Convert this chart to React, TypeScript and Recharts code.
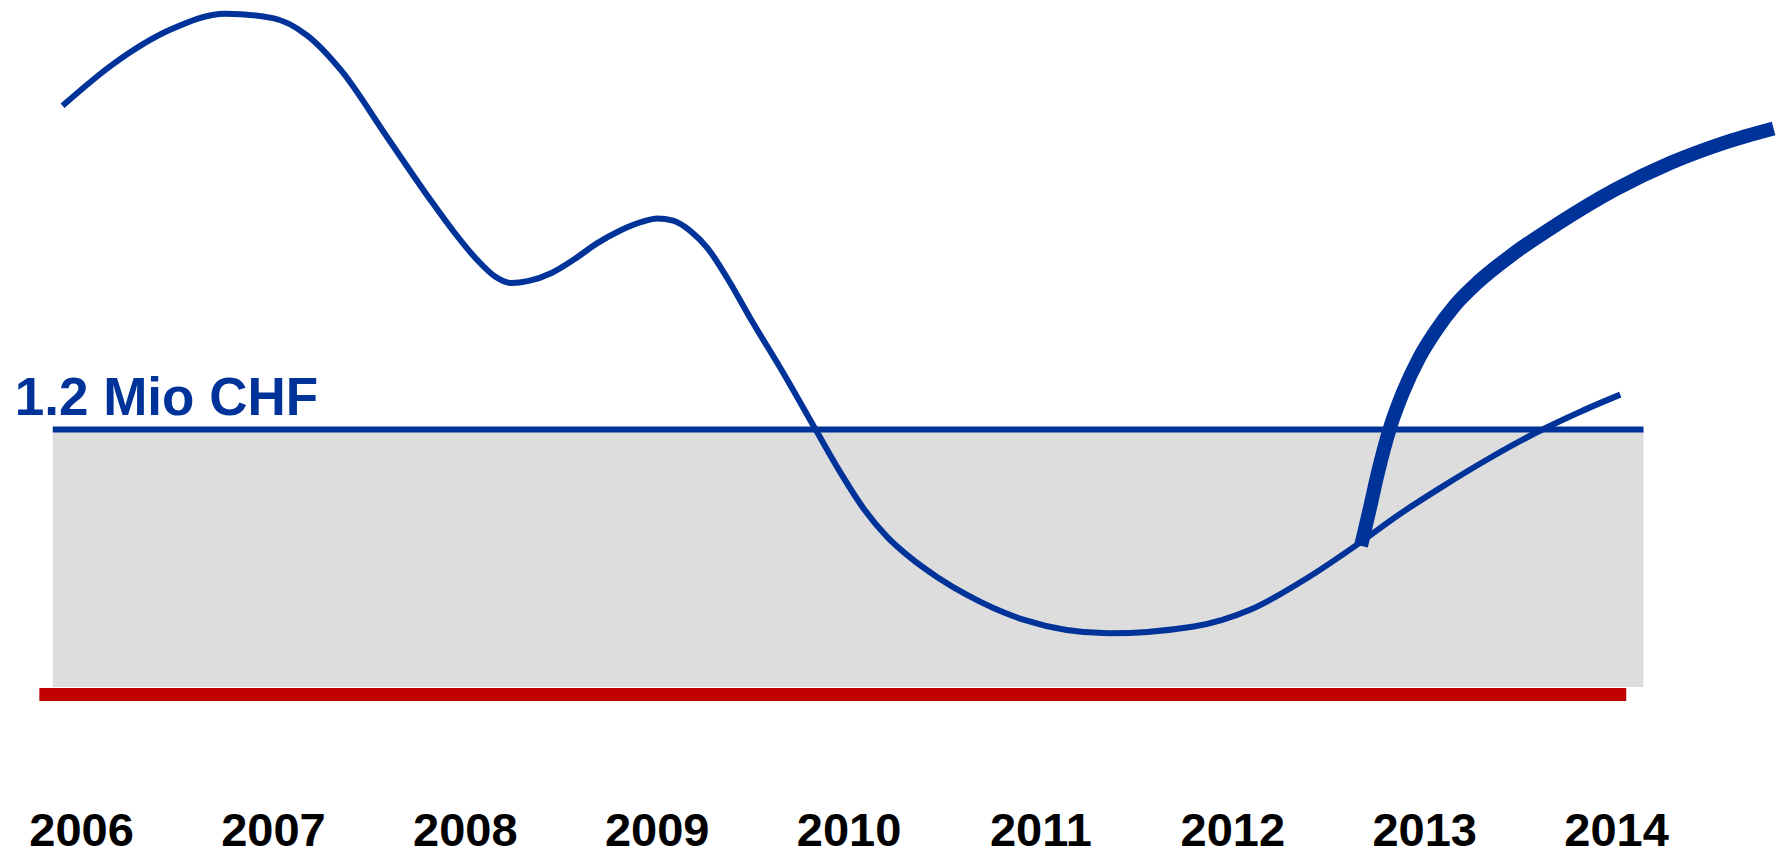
import React from "react";
import {
  LineChart,
  Line,
  XAxis,
  YAxis,
  ReferenceArea,
  ReferenceLine,
} from "recharts";

// years shown under the chart
const YEARS = [2006, 2007, 2008, 2009, 2010, 2011, 2012, 2013, 2014];

// thin curve (Mio CHF)
const THIN_X = [
  2005.901, 2006.168, 2006.464, 2006.749, 2006.997, 2007.175, 2007.353, 2007.59,
  2007.827, 2007.945, 2008.064, 2008.153, 2008.242, 2008.331, 2008.449, 2008.568,
  2008.686, 2008.805, 2008.923, 2009.0, 2009.083, 2009.172, 2009.261, 2009.367,
  2009.486, 2009.664, 2009.83, 2009.96, 2010.079, 2010.197, 2010.316, 2010.464,
  2010.612, 2010.908, 2011.353, 2011.797, 2012.093, 2012.39, 2012.656, 2012.863,
  2013.1, 2013.337, 2013.574, 2013.811, 2014.019,
];
const THIN_Y = [
  2.666, 2.857, 3.011, 3.083, 3.063, 2.985, 2.826, 2.527, 2.229, 2.09, 1.966,
  1.894, 1.863, 1.873, 1.909, 1.971, 2.043, 2.1, 2.141, 2.156, 2.146, 2.1,
  2.023, 1.883, 1.703, 1.446, 1.193, 0.998, 0.838, 0.715, 0.622, 0.529, 0.452,
  0.339, 0.277, 0.308, 0.385, 0.529, 0.684, 0.813, 0.946, 1.07, 1.183, 1.281,
  1.358,
];

// thick curve (Mio CHF)
const THICK_X = [
  2012.668, 2012.71, 2012.757, 2012.816, 2012.887, 2012.97, 2013.053, 2013.16,
  2013.278, 2013.456, 2013.693, 2013.989, 2014.285, 2014.552, 2014.818,
];
const THICK_Y = [
  0.673, 0.828, 1.008, 1.199, 1.369, 1.523, 1.641, 1.765, 1.868, 1.992, 2.131,
  2.285, 2.409, 2.496, 2.563,
];

const LIMIT = 1.2;
const BAND_START = 2005.85;
const BAND_END = 2014.14;
const FLOOR_START = 2005.78;
const FLOOR_END = 2014.05;

const thinData = THIN_X.map((x, i) => ({ x, y: THIN_Y[i] }));
const thickData = THICK_X.map((x, i) => ({ x, y: THICK_Y[i] }));

const BLUE = "#003399";
const RED = "#c00000";
const FONT = "'Liberation Sans', Arial, sans-serif";

const YearTick = (props: any) => {
  const { x, y, payload } = props;
  return (
    <text
      x={x}
      y={y + 64}
      textAnchor="middle"
      fontFamily={FONT}
      fontWeight="bold"
      fontSize={47}
      fill="#000"
    >
      {payload.value}
    </text>
  );
};

const LimitLabel = (props: any) => {
  const { viewBox } = props;
  return (
    <text
      x={viewBox.x - 38}
      y={viewBox.y - 15}
      fontFamily={FONT}
      fontWeight="bold"
      fontSize={53}
      fill={BLUE}
    >
      1.2 Mio CHF
    </text>
  );
};

export default function App() {
  return (
    <div style={{ position: "absolute", left: 0, top: 0, background: "#fff" }}>
      <LineChart
        width={1783}
        height={855}
        margin={{ top: 0, right: 0, bottom: 0, left: 0 }}
      >
        <XAxis
          type="number"
          dataKey="x"
          domain={[2005.575, 2014.867]}
          ticks={YEARS}
          allowDataOverflow
          axisLine={false}
          tickLine={false}
          tickSize={0}
          tickMargin={0}
          height={73}
          tick={<YearTick />}
          interval={0}
        />
        <YAxis type="number" domain={[-0.396, 3.145]} hide allowDataOverflow />
        <ReferenceArea
          x1={BAND_START}
          x2={BAND_END}
          y1={0.034}
          y2={LIMIT}
          fill="#dddddd"
          fillOpacity={1}
          stroke="none"
        />
        <ReferenceLine
          segment={[
            { x: FLOOR_START, y: 0 },
            { x: FLOOR_END, y: 0 },
          ]}
          stroke={RED}
          strokeWidth={13}
        />
        <ReferenceLine
          segment={[
            { x: BAND_START, y: LIMIT },
            { x: BAND_END, y: LIMIT },
          ]}
          stroke={BLUE}
          strokeWidth={6}
          label={<LimitLabel />}
        />
        <Line
          data={thinData}
          dataKey="y"
          type="monotone"
          stroke={BLUE}
          strokeWidth={6}
          dot={false}
          activeDot={false}
          isAnimationActive={false}
        />
        <Line
          data={thickData}
          dataKey="y"
          type="monotone"
          stroke={BLUE}
          strokeWidth={14}
          dot={false}
          activeDot={false}
          isAnimationActive={false}
        />
      </LineChart>
    </div>
  );
}
